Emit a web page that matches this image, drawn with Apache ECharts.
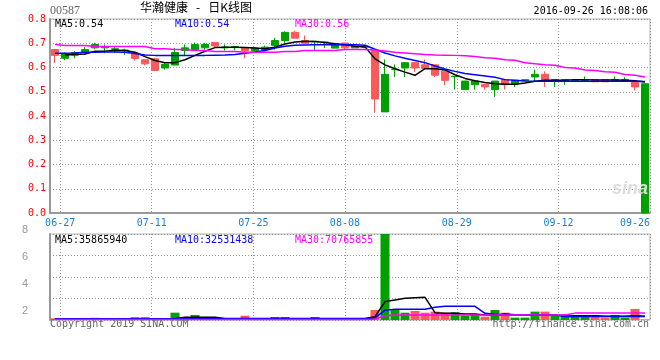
<!DOCTYPE html>
<html><head><meta charset="utf-8">
<script src="https://cdn.jsdelivr.net/npm/echarts@6/dist/echarts.min.js"></script>
<style>html,body{margin:0;padding:0;background:#fff}#c{width:660px;height:360px}</style>
</head><body><div id="c"></div>
<script>
const dates = ['06-24','06-27','06-28','06-29','06-30','07-01','07-04','07-05','07-06','07-07',
 '07-11','07-12','07-13','07-14','07-15','07-18','07-19','07-20','07-21','07-22',
 '07-25','07-26','07-27','07-28','07-29','08-01','08-02','08-03','08-04','08-08',
 '08-09','08-10','08-11','08-12','08-15','08-16','08-17','08-18','08-19','08-26',
 '08-29','08-30','08-31','09-01','09-02','09-05','09-06','09-07','09-08','09-09',
 '09-12','09-13','09-14','09-18','09-19','09-20','09-21','09-22','09-23','09-26'];
const tickLabels = ['06-27','07-11','07-25','08-08','08-29','09-12','09-26'];

const openP = [0.650,0.656,0.662,0.674,0.695,0.686,0.677,0.672,0.637,0.615,
 0.588,0.613,0.662,0.681,0.695,0.695,0.689,0.684,0.686,0.670,
 0.680,0.684,0.711,0.745,0.721,0.700,0.708,0.705,0.697,0.681,
 0.688,0.688,0.470,0.572,0.593,0.620,0.598,0.596,0.568,0.547,
 0.564,0.544,0.544,0.520,0.544,0.529,0.547,0.550,0.572,0.547,
 0.550,0.550,0.549,0.549,0.541,0.541,0.550,0.550,0.520,0.533];
const closeP = [0.674,0.638,0.651,0.662,0.681,0.681,0.675,0.670,0.660,0.632,
 0.636,0.598,0.610,0.670,0.674,0.681,0.703,0.681,0.683,0.680,
 0.670,0.674,0.691,0.711,0.745,0.711,0.706,0.703,0.680,0.701,
 0.681,0.684,0.672,0.417,0.591,0.598,0.620,0.611,0.611,0.585,
 0.562,0.509,0.529,0.531,0.509,0.550,0.531,0.546,0.561,0.572,
 0.547,0.545,0.547,0.547,0.550,0.550,0.547,0.547,0.540,0.000];
const lowP = [0.618,0.630,0.638,0.651,0.676,0.659,0.660,0.652,0.629,0.609,
 0.588,0.591,0.610,0.650,0.670,0.673,0.684,0.670,0.670,0.639,
 0.666,0.672,0.674,0.702,0.721,0.700,0.670,0.680,0.679,0.675,
 0.681,0.684,0.413,0.417,0.561,0.561,0.581,0.596,0.561,0.527,
 0.509,0.509,0.509,0.509,0.479,0.509,0.520,0.544,0.544,0.520,
 0.520,0.529,0.540,0.547,0.541,0.541,0.547,0.547,0.506,0.000];
const highP = [0.676,0.662,0.667,0.684,0.702,0.695,0.684,0.677,0.660,0.632,
 0.640,0.618,0.681,0.695,0.703,0.702,0.704,0.695,0.688,0.680,
 0.684,0.690,0.722,0.749,0.752,0.732,0.709,0.705,0.698,0.702,
 0.688,0.688,0.672,0.633,0.613,0.620,0.620,0.633,0.611,0.585,
 0.564,0.545,0.544,0.531,0.544,0.550,0.547,0.552,0.591,0.584,
 0.550,0.550,0.550,0.563,0.550,0.550,0.563,0.560,0.540,0.533];

const ma5 = [null,0.652,0.654,0.656,0.667,0.667,0.671,0.670,0.663,0.645,
 0.629,0.620,0.620,0.632,0.650,0.667,0.682,0.684,0.684,0.682,
 0.680,0.677,0.684,0.697,0.705,0.708,0.707,0.703,0.698,0.694,
 0.688,0.685,0.636,0.611,0.595,0.581,0.568,0.595,0.595,0.590,
 0.570,0.555,0.545,0.538,0.533,0.531,0.531,0.536,0.543,0.547,
 0.547,0.547,0.550,0.550,0.548,0.548,0.548,0.547,0.545,0.540];
const ma10 = [0.659,0.659,0.660,0.663,0.663,0.664,0.664,0.663,0.658,0.652,
 0.650,0.650,0.650,0.650,0.650,0.650,0.651,0.652,0.654,0.659,
 0.664,0.670,0.680,0.688,0.692,0.693,0.694,0.694,0.694,0.694,
 0.694,0.692,0.675,0.660,0.648,0.638,0.629,0.620,0.606,0.594,
 0.584,0.575,0.570,0.565,0.560,0.550,0.547,0.544,0.543,0.543,
 0.543,0.543,0.543,0.543,0.543,0.543,0.543,0.543,0.543,0.542];
const ma30 = [0.695,0.691,0.691,0.691,0.687,0.687,0.687,0.687,0.687,0.687,
 0.677,0.677,0.674,0.674,0.670,0.670,0.666,0.666,0.666,0.663,
 0.663,0.663,0.663,0.666,0.666,0.670,0.670,0.670,0.670,0.674,
 0.674,0.674,0.672,0.668,0.663,0.660,0.657,0.654,0.652,0.651,
 0.650,0.648,0.645,0.640,0.638,0.632,0.630,0.620,0.615,0.611,
 0.609,0.600,0.598,0.590,0.588,0.582,0.580,0.571,0.568,0.561];

// volume, in units of 1e8
const volume = [0.16,0.10,0.10,0.15,0.20,0.10,0.08,0.08,0.28,0.28,
 0.15,0.15,0.68,0.15,0.47,0.12,0.12,0.10,0.10,0.40,
 0.12,0.10,0.28,0.28,0.15,0.15,0.28,0.15,0.15,0.15,
 0.15,0.15,0.93,8.60,1.00,0.68,0.84,0.68,0.78,0.68,
 0.72,0.40,0.53,0.31,0.93,0.68,0.22,0.22,0.78,0.78,
 0.40,0.40,0.31,0.31,0.47,0.22,0.47,0.22,1.03,0.03];
const volMa5 = [0.12,0.12,0.12,0.12,0.12,0.12,0.12,0.12,0.12,0.12,
 0.12,0.12,0.12,0.25,0.25,0.25,0.25,0.15,0.15,0.15,
 0.15,0.15,0.15,0.15,0.15,0.15,0.15,0.15,0.15,0.15,
 0.15,0.15,0.30,1.71,1.87,2.02,2.08,2.11,0.68,0.62,
 0.62,0.56,0.55,0.47,0.45,0.55,0.50,0.45,0.45,0.45,
 0.45,0.45,0.40,0.40,0.40,0.35,0.35,0.35,0.40,0.36];
const volMa10 = [0.11,0.11,0.11,0.11,0.11,0.11,0.11,0.11,0.11,0.11,
 0.11,0.11,0.11,0.11,0.11,0.11,0.11,0.11,0.11,0.11,
 0.11,0.11,0.11,0.11,0.11,0.11,0.11,0.11,0.11,0.11,
 0.11,0.11,0.20,0.91,1.00,1.00,1.00,1.00,1.18,1.27,
 1.27,1.27,1.27,0.62,0.53,0.47,0.47,0.47,0.47,0.47,
 0.47,0.33,0.33,0.33,0.33,0.33,0.33,0.33,0.33,0.33];
const volMa30 = [0.05,0.05,0.05,0.05,0.05,0.05,0.05,0.05,0.05,0.05,
 0.05,0.05,0.05,0.05,0.05,0.05,0.05,0.05,0.05,0.05,
 0.05,0.05,0.05,0.05,0.05,0.05,0.05,0.05,0.05,0.05,
 0.05,0.05,0.08,0.40,0.47,0.47,0.47,0.47,0.47,0.47,
 0.47,0.47,0.47,0.47,0.47,0.47,0.47,0.47,0.47,0.47,
 0.47,0.47,0.64,0.64,0.64,0.64,0.64,0.64,0.64,0.64];
const volMaLast = [35865940, 32531438, 70765855];
const priceMaLast = ['0.54', '0.54', '0.56'];

const RED = '#ff5858', GREEN = '#00a000';
const GRID_C = '#999999', AXIS_C = '#999999';
const MONO = 'DejaVu Sans Mono';
const isTick = (i, v) => tickLabels.indexOf(v) >= 0;
const dotted = {color: GRID_C, type: [1, 2], width: 1};

const chart = echarts.init(document.getElementById('c'), null, {renderer: 'canvas'});
const candleData = dates.map((d, i) => [openP[i], closeP[i], lowP[i], highP[i]]);
const volData = volume.map((v, i) => ({
  value: v,
  itemStyle: {color: closeP[i] > openP[i] || (closeP[i] === openP[i] && i > 0 && closeP[i] >= closeP[i-1]) ? RED : GREEN}
}));

function txt(text, pos, color, opts) {
  return Object.assign({
    text: text, padding: 0, itemGap: 0,
    textStyle: Object.assign({color: color, fontFamily: MONO, fontSize: 10, fontWeight: 'normal'}, (opts && opts.ts) || {})
  }, pos);
}
const line = (name, data, color, xi, yi) => ({
  name, type: 'line', data, xAxisIndex: xi, yAxisIndex: yi, showSymbol: false, symbol: 'none',
  lineStyle: {color, width: 1.5}, itemStyle: {color}, z: 5, silent: true
});

chart.setOption({
  animation: false,
  backgroundColor: '#ffffff',
  title: [
    txt('00587', {left: 50, top: 5}, '#666666', {ts: {fontFamily: 'Liberation Serif', fontSize: 12}}),
    txt('华瀚健康   -   日K线图', {left: 140, top: 1}, '#000000', {ts: {fontFamily: 'Noto Sans CJK SC', fontSize: 12}}),
    txt('2016-09-26 16:08:06', {right: 12, top: 6}, '#000000'),
    txt('MA5:' + priceMaLast[0], {left: 55, top: 19}, '#000000'),
    txt('MA10:' + priceMaLast[1], {left: 175, top: 19}, '#0000ff'),
    txt('MA30:' + priceMaLast[2], {left: 295, top: 19}, '#ff00ff'),
    txt('MA5:' + volMaLast[0], {left: 55, top: 235}, '#000000'),
    txt('MA10:' + volMaLast[1], {left: 175, top: 235}, '#0000ff'),
    txt('MA30:' + volMaLast[2], {left: 295, top: 235}, '#ff00ff'),
    txt('Copyright 2019 SINA.COM', {left: 50, top: 319}, '#666666'),
    txt('http://finance.sina.com.cn', {right: 11, top: 319}, '#666666'),
    txt('sina', {left: 612, top: 180}, '#dddddd', {ts: {fontFamily: 'Liberation Sans', fontSize: 18, fontWeight: 'bold', fontStyle: 'italic'}})
  ],
  grid: [
    {left: 50, right: 10, top: 19, height: 194, show: true, borderColor: '#b0b0b0', borderWidth: 1},
    {left: 50, right: 10, top: 234, height: 86, show: true, borderColor: '#b0b0b0', borderWidth: 1},
    {left: 50, right: 10, top: 230, height: 108}
  ],
  xAxis: [
    {gridIndex: 0, type: 'category', data: dates, boundaryGap: true, show: false, position: 'bottom'},
    {gridIndex: 0, type: 'category', data: dates, boundaryGap: false, position: 'bottom',
      axisLine: {show: true, lineStyle: {color: AXIS_C, width: 2}}, axisTick: {show: false},
      axisLabel: {interval: isTick, color: '#1a7fd4', fontFamily: MONO, fontSize: 10, margin: 5, alignMaxLabel: 'right'},
      splitLine: {show: true, interval: isTick, lineStyle: dotted}},
    {gridIndex: 1, type: 'category', data: dates, boundaryGap: true, show: false, position: 'bottom'},
    {gridIndex: 1, type: 'category', data: dates, boundaryGap: false, position: 'bottom',
      axisLine: {show: false}, axisTick: {show: false}, axisLabel: {show: false},
      splitLine: {show: true, interval: isTick, lineStyle: dotted}},
    {gridIndex: 2, type: 'category', data: dates, show: false}
  ],
  yAxis: [
    {gridIndex: 0, type: 'value', min: 0, max: 0.8, interval: 0.1,
      axisLine: {show: true, lineStyle: {color: AXIS_C, width: 2}}, axisTick: {show: false},
      axisLabel: {color: '#ff0000', fontFamily: MONO, fontSize: 10, margin: 4, padding: [0, 0, 3, 0],
        formatter: v => v.toFixed(1)},
      splitLine: {show: true, lineStyle: dotted}},
    {gridIndex: 1, type: 'value', min: 0, max: 8, interval: 2,
      axisLine: {show: true, lineStyle: {color: AXIS_C, width: 2}}, axisTick: {show: false},
      axisLabel: {show: false}, splitLine: {show: true, lineStyle: dotted}},
    {gridIndex: 2, type: 'value', min: 0, max: 8, interval: 2,
      axisLine: {show: false}, axisTick: {show: false}, splitLine: {show: false},
      axisLabel: {color: '#999999', fontFamily: 'Liberation Sans', fontSize: 11, margin: 22, showMinLabel: false}}
  ],
  series: [
    {type: 'candlestick', xAxisIndex: 0, yAxisIndex: 0, data: candleData, barWidth: 8,
      itemStyle: {color: RED, color0: GREEN, borderColor: RED, borderColor0: GREEN, borderWidth: 1}, silent: true},
    line('MA5', ma5, '#000000', 0, 0),
    line('MA10', ma10, '#0000ff', 0, 0),
    line('MA30', ma30, '#ff00ff', 0, 0),
    {type: 'bar', xAxisIndex: 2, yAxisIndex: 1, data: volData, barWidth: 9, silent: true},
    line('VMA5', volMa5, '#000000', 2, 1),
    line('VMA10', volMa10, '#0000ff', 2, 1),
    line('VMA30', volMa30, '#ff00ff', 2, 1)
  ]
});
</script></body></html>
